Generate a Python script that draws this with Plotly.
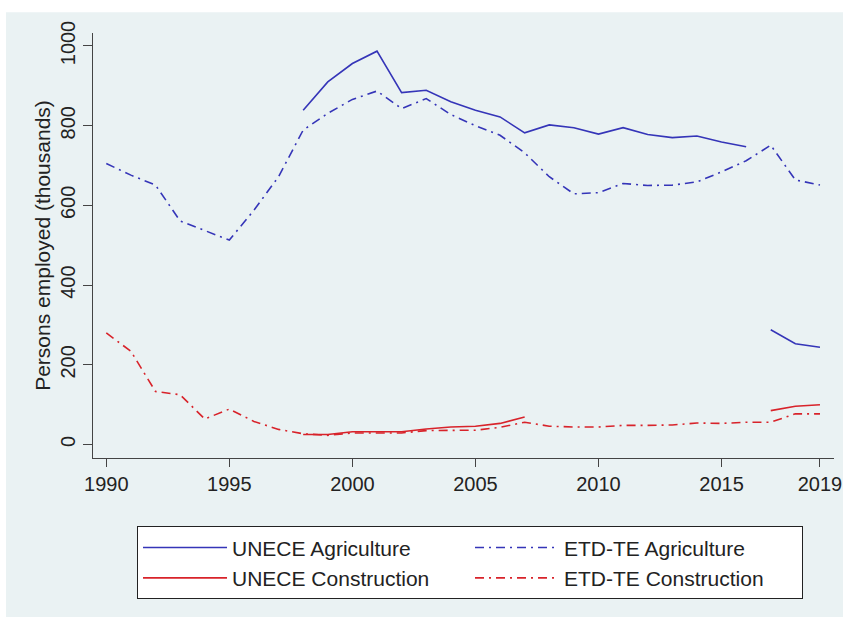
import plotly.graph_objects as go

# Persons employed (thousands), by source and sector
years = list(range(1990, 2020))

etd_te_agriculture = [705, 676, 651, 561, 537, 513, 588, 672, 789, 831,
                      866, 887, 843, 868, 828, 800, 776, 732, 672, 629,
                      632, 655, 650, 651, 659, 684, 712, 751, 664, 651]
etd_te_construction = [280, 234, 133, 125, 64, 89, 58, 38, 27, 23,
                       29, 29, 29, 35, 36, 36, 43, 56, 46, 44,
                       44, 48, 48, 49, 54, 53, 56, 56, 77, 77]

# UNECE series have a break in 2017 (new basis), drawn as separate segments
unece_agri_years_1 = list(range(1998, 2017))
unece_agriculture_1 = [839, 910, 956, 987, 883, 889, 860, 839, 822, 782,
                       802, 795, 779, 795, 778, 770, 774, 759, 747]
unece_agri_years_2 = [2017, 2018, 2019]
unece_agriculture_2 = [288, 253, 244]

unece_cons_years_1 = list(range(1998, 2008))
unece_construction_1 = [25, 25, 32, 32, 32, 39, 44, 46, 53, 69]
unece_cons_years_2 = [2017, 2018, 2019]
unece_construction_2 = [85, 96, 100]

x_ticks = [1990, 1995, 2000, 2005, 2010, 2015, 2019]
y_ticks = [0, 200, 400, 600, 800, 1000]

BLUE = "#3535B8"
RED = "#D8232A"
PANEL = "#EAF2F3"
DASHDOT = "9px,5px,2px,5px"
FONT = "Liberation Sans, Arial, sans-serif"


def joined(xa, ya, xb, yb):
    # two segments in one trace, separated by a gap
    return xa + [None] + xb, ya + [None] + yb


fig = go.Figure()

ux, uy = joined(unece_agri_years_1, unece_agriculture_1,
                unece_agri_years_2, unece_agriculture_2)
fig.add_trace(go.Scatter(x=ux, y=uy, mode="lines", name="UNECE Agriculture",
                         line=dict(color=BLUE, width=1.6), connectgaps=False))
fig.add_trace(go.Scatter(x=years, y=etd_te_agriculture, mode="lines",
                         name="ETD-TE Agriculture",
                         line=dict(color=BLUE, width=1.6, dash=DASHDOT)))
cx, cy = joined(unece_cons_years_1, unece_construction_1,
                unece_cons_years_2, unece_construction_2)
fig.add_trace(go.Scatter(x=cx, y=cy, mode="lines", name="UNECE Construction",
                         line=dict(color=RED, width=1.6), connectgaps=False))
fig.add_trace(go.Scatter(x=years, y=etd_te_construction, mode="lines",
                         name="ETD-TE Construction",
                         line=dict(color=RED, width=1.6, dash=DASHDOT)))

# light outer panel behind the white plot region
fig.add_shape(type="rect", xref="paper", yref="paper",
              x0=-0.1174, x1=1.02, y0=-0.40, y1=1.0486,
              fillcolor=PANEL, line=dict(width=0), layer="below")

fig.update_layout(
    width=843, height=617,
    margin=dict(l=93, r=9, t=33, b=158.5, autoexpand=False),
    paper_bgcolor="white",
    plot_bgcolor="white",
    font=dict(family=FONT, size=20, color="#222222"),
    showlegend=True,
    legend=dict(
        orientation="h",
        x=0.0594, xanchor="left",
        y=-0.161, yanchor="top",
        bgcolor="white", bordercolor="#222222", borderwidth=1,
        entrywidth=233, entrywidthmode="pixels",
        itemwidth=84,
        font=dict(family=FONT, size=21, color="#222222"),
        tracegroupgap=0,
    ),
    xaxis=dict(
        range=[1989.46, 2019.57],
        tickmode="array", tickvals=x_ticks,
        ticks="outside", ticklen=8, tickwidth=1.3, tickcolor="#444444",
        showline=True, linecolor="#444444", linewidth=1.3,
        showgrid=False, zeroline=False,
        tickfont=dict(size=20),
    ),
    yaxis=dict(
        range=[-33.8, 1032.6],
        tickmode="array", tickvals=y_ticks,
        tickangle=-90,
        ticks="outside", ticklen=9, tickwidth=1.3, tickcolor="#444444",
        showline=True, linecolor="#444444", linewidth=1.3,
        showgrid=True, gridcolor=PANEL, gridwidth=1.2,
        zeroline=False,
        tickfont=dict(size=20),
        title=dict(text="Persons employed (thousands)", font=dict(size=21),
                   standoff=0),
    ),
)

fig.write_html("out.html")
